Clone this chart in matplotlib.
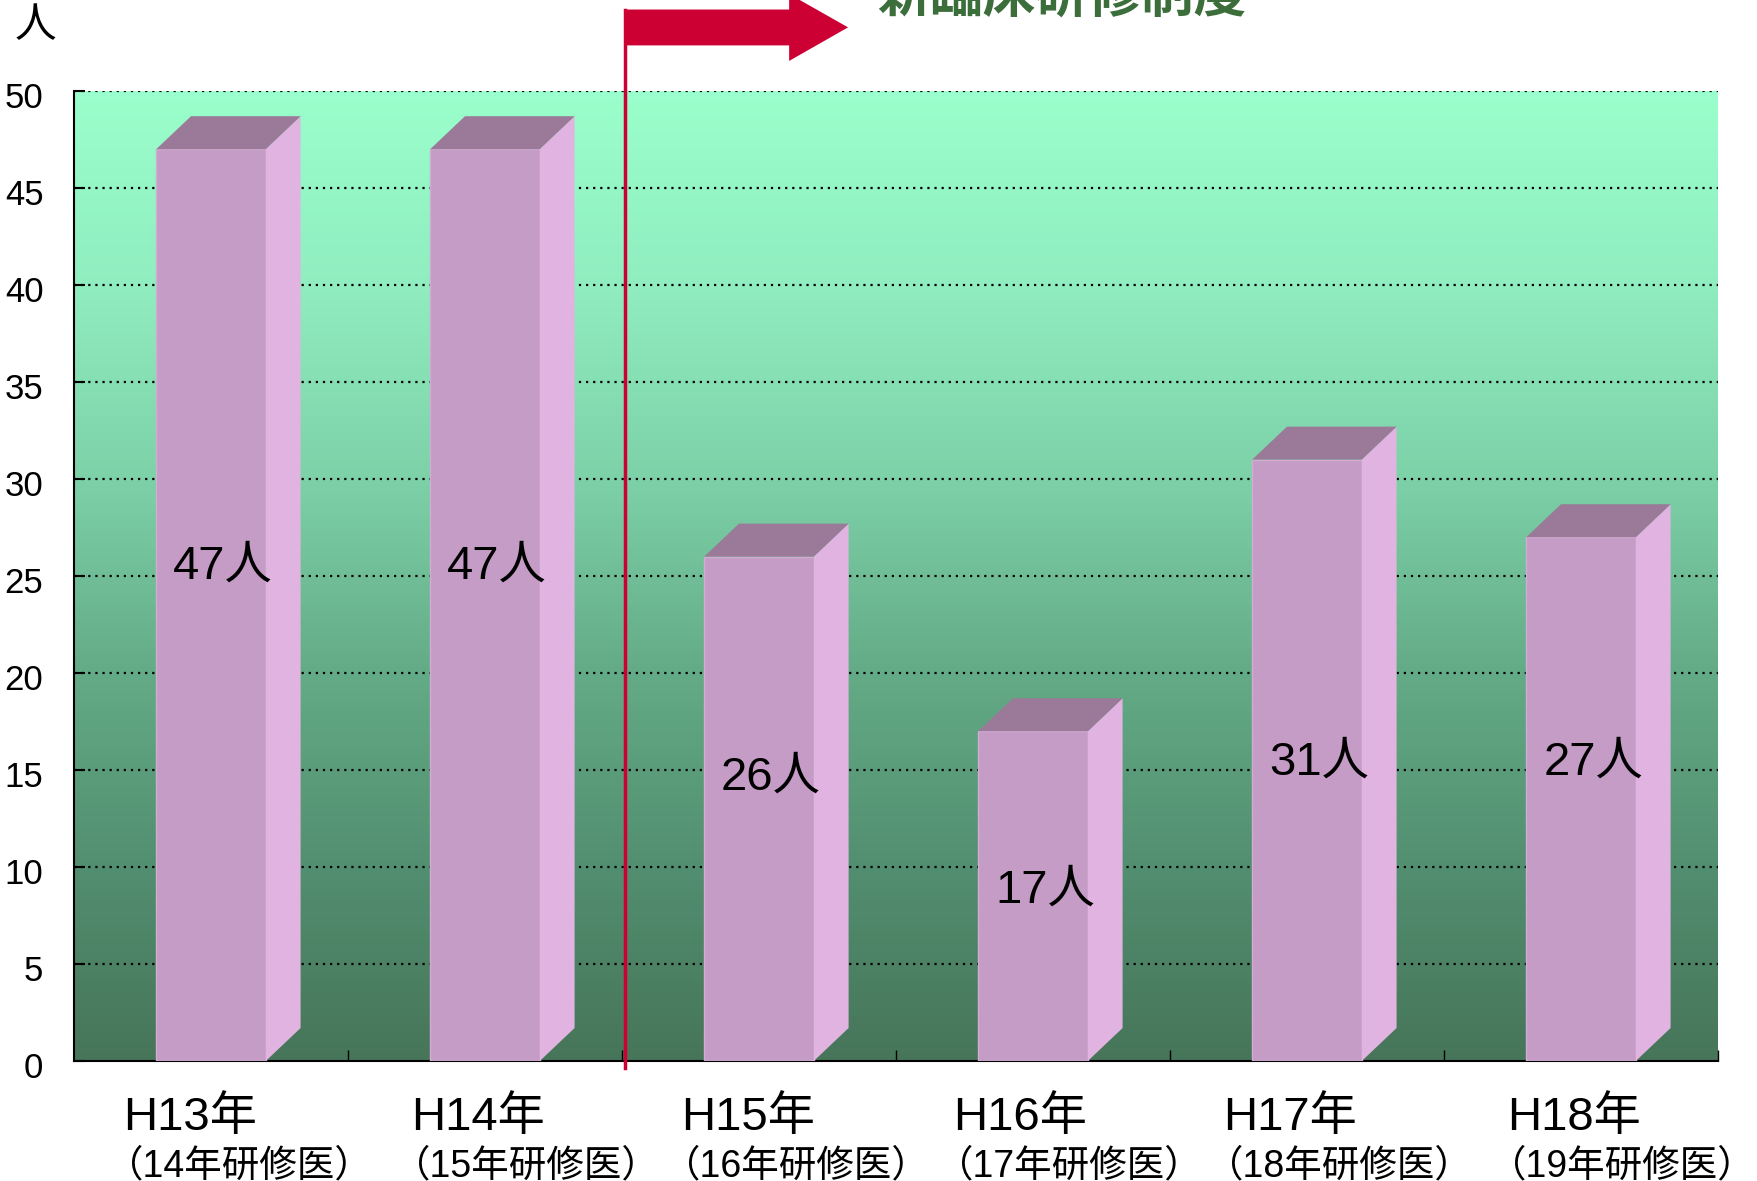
import numpy as np
import matplotlib
matplotlib.use('Agg')
import matplotlib.pyplot as plt
from matplotlib.patches import Polygon, Rectangle
from matplotlib.colors import LinearSegmentedColormap
import matplotlib.transforms as mtransforms

plt.rcParams['font.family'] = ['Liberation Sans', 'Noto Sans CJK JP', 'DejaVu Sans']

# data
years = ['H13年', 'H14年', 'H15年', 'H16年', 'H17年', 'H18年']
cohorts = ['（14年研修医）', '（15年研修医）', '（16年研修医）',
           '（17年研修医）', '（18年研修医）', '（19年研修医）']
counts = [47, 47, 26, 17, 31, 27]
value_labels = ['47人', '47人', '26人', '17人', '31人', '27人']
label_y = [25.5, 25.5, 14.6, 8.8, 15.4, 15.4]  # where the value text sits
cat_shift = [-0.32, -0.27, -0.285, -0.29, -0.305, -0.27]  # left edge of category text
yticks = list(range(0, 51, 5))

# colours
front_col = '#C49CC5'
side_col = '#E1B3E1'
top_col = '#9A7A98'
red = '#CC0033'
title_green = '#3C6E3C'

W, H = 1757, 1181
fig = plt.figure(figsize=(W / 100, H / 100), dpi=100)
ax = fig.add_axes([74 / W, 1 - 1061 / H, 1644 / W, 970 / H])
ax.set_xlim(-0.5, 5.5)
ax.set_ylim(0, 50)

# gradient background
stops = [(0.0, '#477559'), (0.2, '#528F70'), (0.4, '#63AB86'),
         (0.6, '#7DD1A8'), (0.8, '#90EDBF'), (1.0, '#9AFFCC')]
cmap = LinearSegmentedColormap.from_list('bg', stops)
grad = np.linspace(0, 1, 256).reshape(-1, 1)
ax.imshow(grad, cmap=cmap, origin='lower', aspect='auto',
          extent=(-0.5, 5.5, 0, 50), zorder=0)

# dotted grid
for yv in yticks[1:]:
    ax.axhline(yv, color='black', lw=1.6, ls=(0, (1, 2.2)), zorder=1)

# pseudo-3D bars
bw = 0.4
dx, dy = 0.127, 1.7
for i, v in enumerate(counts):
    x0, x1 = i - bw / 2, i + bw / 2
    ax.add_patch(Rectangle((x0, 0), bw, v, facecolor=front_col,
                           edgecolor='#D2ACD2', lw=1, zorder=3))
    ax.add_patch(Polygon([(x1, 0), (x1 + dx, dy), (x1 + dx, v + dy), (x1, v)],
                         closed=True, facecolor=side_col, edgecolor='none', zorder=3))
    ax.add_patch(Polygon([(x0, v), (x0 + dx, v + dy), (x1 + dx, v + dy), (x1, v)],
                         closed=True, facecolor=top_col, edgecolor='none', zorder=3))
    ax.text(i + 0.044, label_y[i], value_labels[i], ha='center', va='center',
            fontsize=34, color='black', zorder=5)

# axes styling
for s in ['top', 'right']:
    ax.spines[s].set_visible(False)
ax.spines['left'].set_linewidth(1.5)
ax.spines['bottom'].set_linewidth(1.5)
ax.set_yticks(yticks)
ax.set_yticklabels([str(t) for t in yticks], fontsize=25)
ax.tick_params(axis='y', direction='in', length=8, width=1.5, pad=22)
ax.set_xticks([k + 0.5 for k in range(6)])
ax.set_xticklabels([])
ax.tick_params(axis='x', direction='in', length=8, width=1)
shift = mtransforms.ScaledTranslation(0, -0.04, fig.dpi_scale_trans)
for lbl in ax.get_yticklabels():
    lbl.set_transform(lbl.get_transform() + shift)

# category labels (two lines)
tr = mtransforms.blended_transform_factory(ax.transData, fig.transFigure)
for i in range(6):
    ax.text(i + cat_shift[i], 1 - 1130 / H, years[i], transform=tr, ha='left',
            va='baseline', fontsize=34, clip_on=False)
    ax.text(i + cat_shift[i] - 0.065, 1 - 1176 / H, cohorts[i], transform=tr,
            ha='left', va='baseline', fontsize=27, clip_on=False)

# y unit
fig.text(35 / W, 1 - 26 / H, '人', ha='center', va='center', fontsize=30)

# start of the new training system: red flag line + arrow
ax.plot([1.51, 1.51], [-0.36, 54.2], color=red, lw=2.5, clip_on=False, zorder=6)
arrow = Polygon([(1.51, 54.2), (2.11, 54.2), (2.11, 55.0), (2.325, 53.28),
                 (2.11, 51.55), (2.11, 52.35), (1.51, 52.35)],
                closed=True, facecolor=red, edgecolor='none', clip_on=False, zorder=6)
ax.add_patch(arrow)
ax.text(2.43, 54.1, '新臨床研修制度', ha='left', va='baseline', fontsize=38,
        fontweight='bold', color=title_green, clip_on=False)

fig.savefig('out.png', dpi=100)
